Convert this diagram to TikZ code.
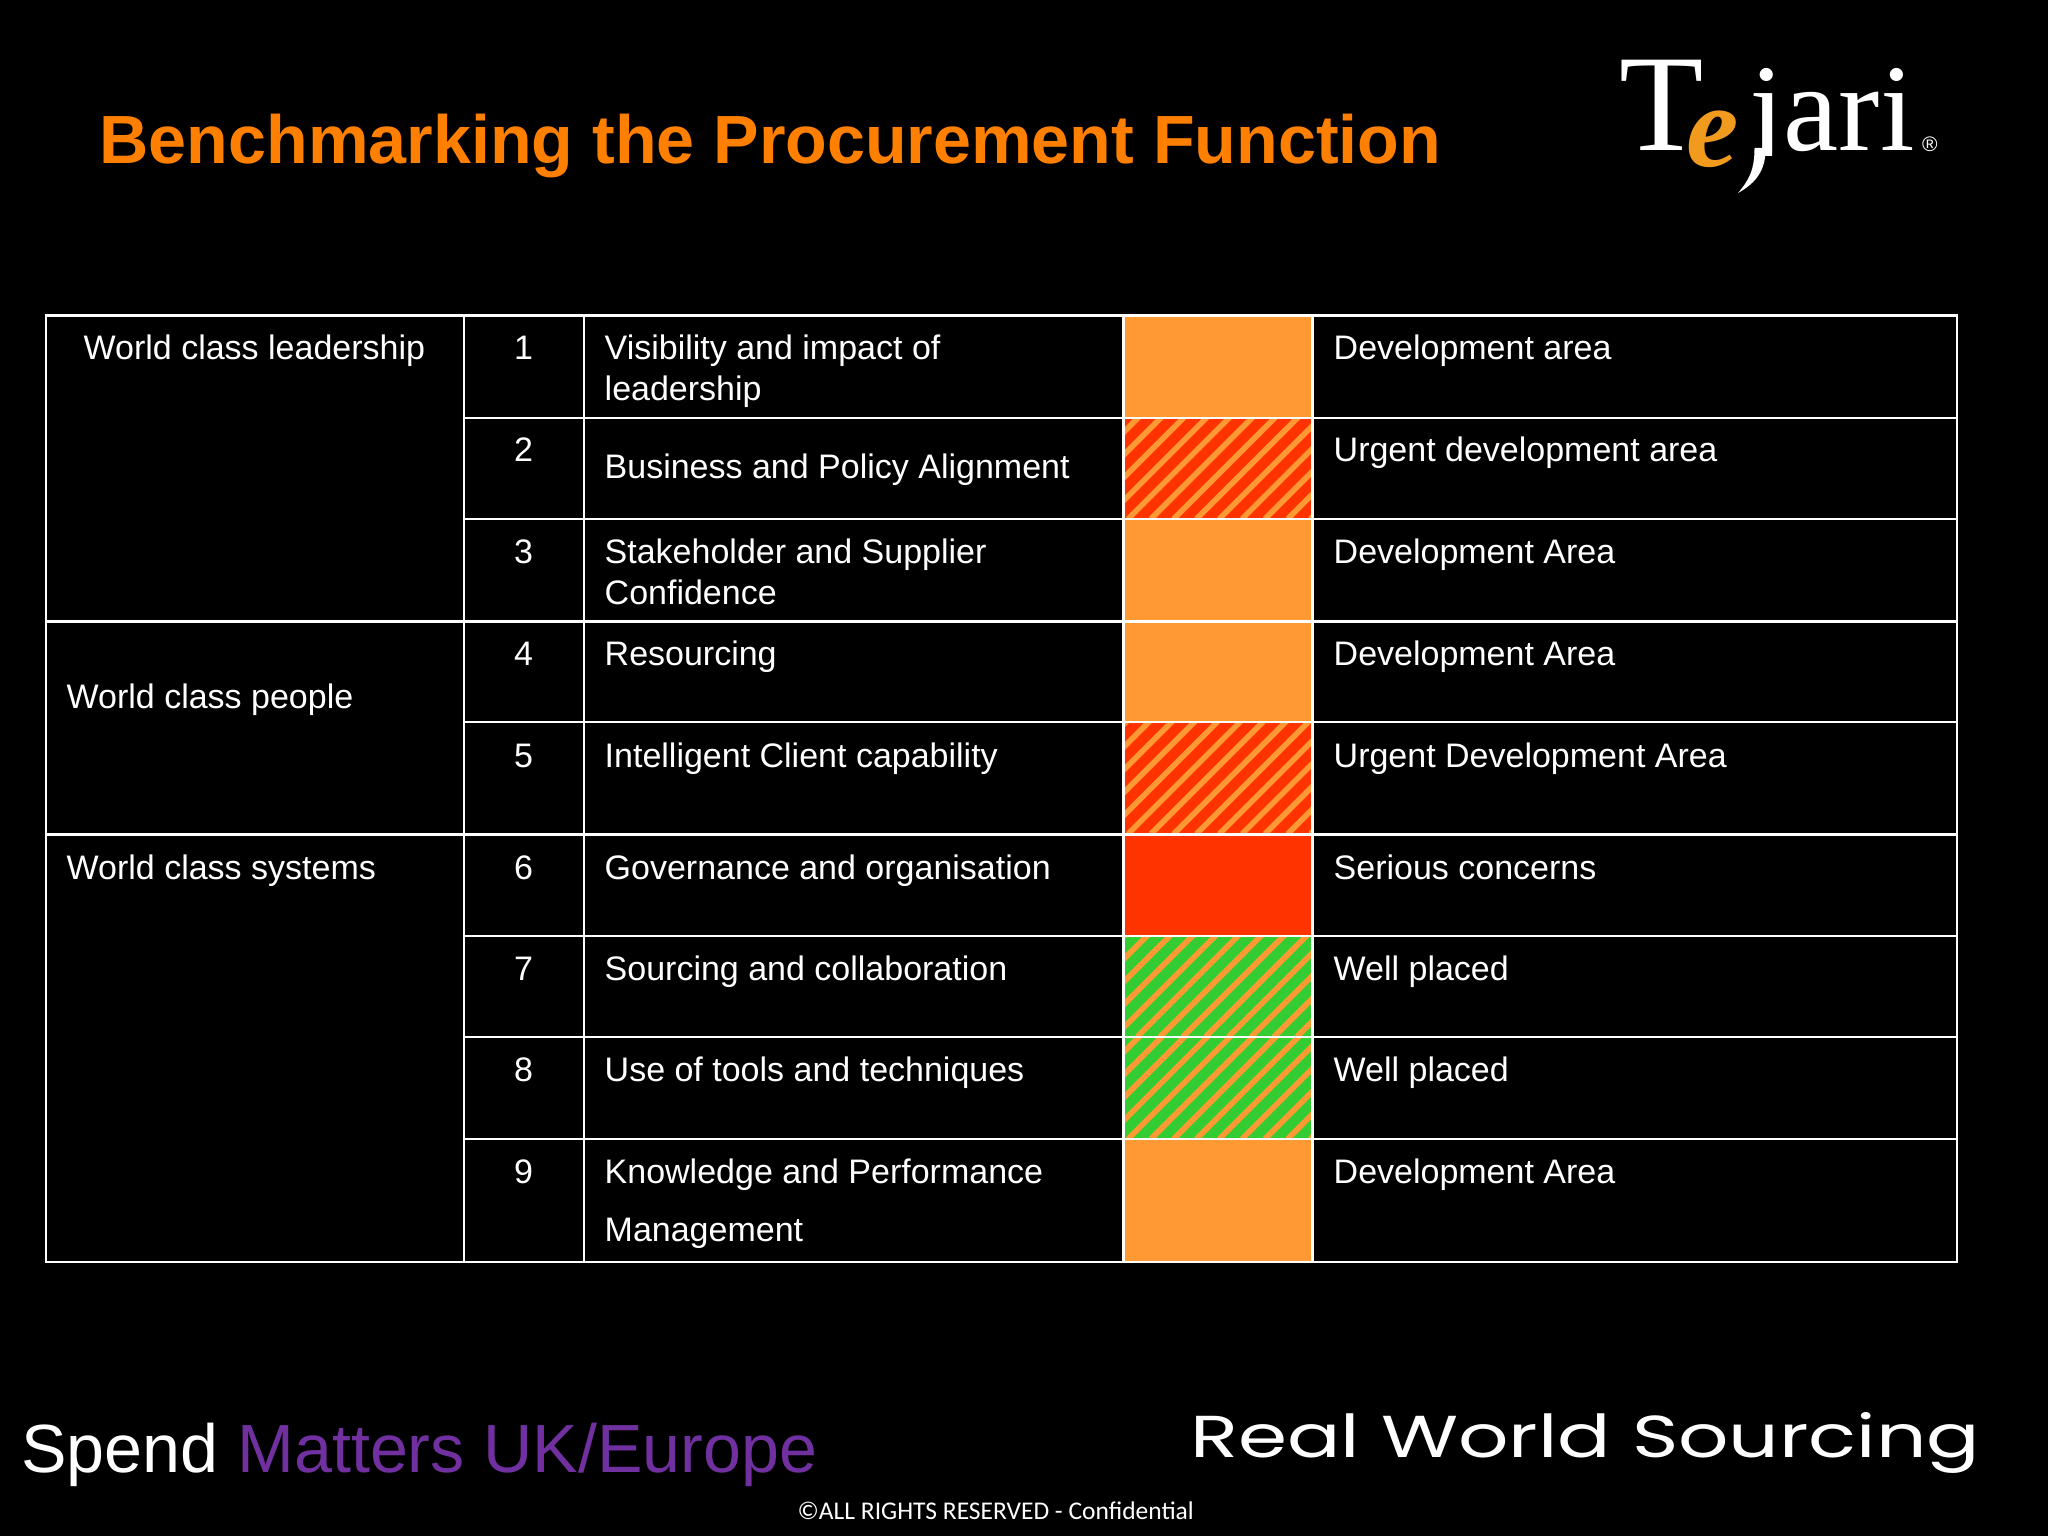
\documentclass[tikz,border=0pt]{standalone}
\usepackage{fontspec}
\setmainfont{Liberation Sans}
\newfontfamily\seriffont{Liberation Serif}
\newfontfamily\footfont{Carlito}
\newfontfamily\rwsfont{Poppins}
\definecolor{orangefill}{HTML}{FF9933}
\definecolor{redfill}{HTML}{FF3300}
\definecolor{greenfill}{HTML}{33CC33}
\definecolor{titleorange}{HTML}{FF8000}
\definecolor{spendpurple}{HTML}{7030A0}
\definecolor{logoorange}{HTML}{F09A1E}
\newcommand{\hatchcell}[6]{%
  \fill[#5] (#1,#2) rectangle (#3,#4);
  \begin{scope}
    \clip (#1,#2) rectangle (#3,#4);
    \foreach \k in {-6,...,14}
      \draw[orangefill,line width=5.6] ({#1+#6+\k*22.8},#4) -- ({#1+#6+\k*22.8+120},{#4-120});
  \end{scope}}
\tikzset{
  cell/.style={white,anchor=base west,inner sep=0,font=\fontsize{34}{40}\selectfont},
  numcell/.style={white,anchor=base,inner sep=0,font=\fontsize{34}{40}\selectfont},
  rule/.style={white,line width=2.8},
}
\begin{document}
\begin{tikzpicture}[x=1pt,y=-1pt]
\useasboundingbox (0,0) rectangle (2048,1536);
\fill[black] (0,0) rectangle (2048,1536);
% title
\node[anchor=base west,inner sep=0,text=titleorange,font=\fontsize{68.2}{76}\selectfont\bfseries] (title) at (99.5,164) {Benchmarking the Procurement Function};
% logo
\node[anchor=base west,inner sep=0,text=white,font=\fontsize{124}{140}\seriffont] (logoj) at (1749,150) {jari};
\fill[black] (1725,156) rectangle (1775,185);
\fill[white] (1754.5,148) -- (1765.5,148) .. controls (1766,170) and (1756,183) .. (1738,193) .. controls (1749,180) and (1754.5,170) .. cycle;
\node[anchor=base west,inner sep=0,text=white,font=\fontsize{138}{140}\seriffont] (logoT) at (1619,150) {T};
\node[anchor=base west,inner sep=0,text=logoorange,font=\fontsize{118}{120}\seriffont\bfseries\itshape] (logoe) at (1686,167) {e};
\node[anchor=base west,inner sep=0,text=white,font=\fontsize{21}{24}\selectfont] (logor) at (1922,151) {®};
% colour cells
\fill[orangefill] (1123,316) rectangle (1312.5,418);
\hatchcell{1123}{418}{1312.5}{519}{redfill}{5}
\fill[orangefill] (1123,519) rectangle (1312.5,621);
\fill[orangefill] (1123,621) rectangle (1312.5,722);
\hatchcell{1123}{722}{1312.5}{834}{redfill}{5}
\fill[redfill] (1123,834) rectangle (1312.5,936);
\hatchcell{1123}{936}{1312.5}{1037}{greenfill}{14}
\hatchcell{1123}{1037}{1312.5}{1139}{greenfill}{5}
\fill[orangefill] (1123,1139) rectangle (1312.5,1262);
% grid
\draw[rule] (46,315.5) rectangle (1957,1262);
\foreach \y in {418,519,722,936,1037,1139} \draw[rule] (464,\y) -- (1957,\y);
\foreach \y in {621.5,834.5} \draw[rule] (46,\y) -- (1957,\y);
\foreach \x in {464,584,1123.5,1312.5} \draw[rule] (\x,315.5) -- (\x,1262);
% group labels
\node[cell] (g1) at (83.5,359) {World class leadership};
\node[cell] (g2) at (66.5,708.5) {World class people};
\node[cell] (g3) at (66.5,879.5) {World class systems};
% numbers
\node[numcell] (n1) at (523.5,359) {1};
\node[numcell] (n2) at (523.5,461.5) {2};
\node[numcell] (n3) at (523.5,563.5) {3};
\node[numcell] (n4) at (523.5,665.5) {4};
\node[numcell] (n5) at (523.5,767.5) {5};
\node[numcell] (n6) at (523.5,879.5) {6};
\node[numcell] (n7) at (523.5,980.5) {7};
\node[numcell] (n8) at (523.5,1081.5) {8};
\node[numcell] (n9) at (523.5,1183) {9};
% names
\node[cell] (a1) at (604.5,359) {Visibility and impact of};
\node[cell] (a1b) at (604.5,400.5) {leadership};
\node[cell] (a2) at (604.5,478.5) {Business and Policy Alignment};
\node[cell] (a3) at (604.5,563.5) {Stakeholder and Supplier};
\node[cell] (a3b) at (604.5,604.5) {Confidence};
\node[cell] (a4) at (604.5,665.5) {Resourcing};
\node[cell] (a5) at (604.5,767.5) {Intelligent Client capability};
\node[cell] (a6) at (604.5,879.5) {Governance and organisation};
\node[cell] (a7) at (604.5,980.5) {Sourcing and collaboration};
\node[cell] (a8) at (604.5,1081.5) {Use of tools and techniques};
\node[cell] (a9) at (604.5,1183) {Knowledge and Performance};
\node[cell] (a9b) at (604.5,1241) {Management};
% ratings
\node[cell] (r1) at (1333.5,359) {Development area};
\node[cell] (r2) at (1333.5,461.5) {Urgent development area};
\node[cell] (r3) at (1333.5,563.5) {Development Area};
\node[cell] (r4) at (1333.5,665.5) {Development Area};
\node[cell] (r5) at (1333.5,767.5) {Urgent Development Area};
\node[cell] (r6) at (1333.5,879.5) {Serious concerns};
\node[cell] (r7) at (1333.5,980.5) {Well placed};
\node[cell] (r8) at (1333.5,1081.5) {Well placed};
\node[cell] (r9) at (1333.5,1183) {Development Area};
% footer
\node[anchor=base west,inner sep=0,text=white,font=\fontsize{68.2}{72}\selectfont] (spend) at (21,1472) {Spend \textcolor{spendpurple}{Matters UK/Europe}};
\node[anchor=base west,inner sep=0,text=white,font=\fontsize{25.5}{28}\footfont] (copy) at (797.5,1519) {©ALL RIGHTS RESERVED - Confidential};
\node[anchor=base west,inner sep=0,text=white,font=\fontsize{62}{70}\rwsfont] (rws) at (1190,1457) {\resizebox{790pt}{45pt}{Real World Sourcing}};
\end{tikzpicture}
\end{document}
